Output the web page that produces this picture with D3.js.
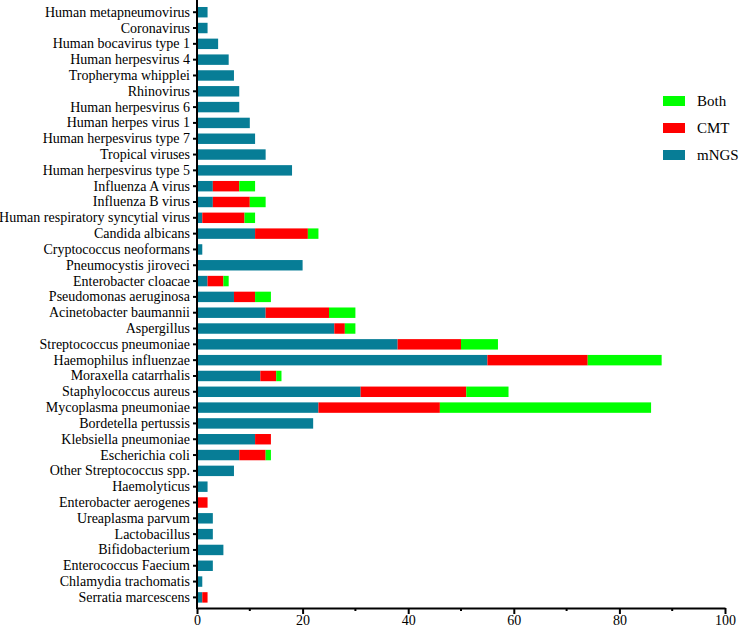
<!DOCTYPE html>
<html>
<head>
<meta charset="utf-8">
<script src="https://cdn.jsdelivr.net/npm/d3@7"></script>
<style>
  body { margin: 0; background: #fff; }
  svg, svg text { font-family: "Liberation Serif", "Times New Roman", Times, serif !important; }
  .axis path, .axis line { stroke: #000; }
</style>
</head>
<body>
<svg id="chart" width="741" height="629"></svg>
<script>
// categories, top to bottom
var pathogens = [
    'Human metapneumovirus', 'Coronavirus', 'Human bocavirus type 1', 'Human herpesvirus 4',
    'Tropheryma whipplei', 'Rhinovirus', 'Human herpesvirus 6', 'Human herpes virus 1',
    'Human herpesvirus type 7', 'Tropical viruses', 'Human herpesvirus type 5', 'Influenza A virus',
    'Influenza B virus', 'Human respiratory syncytial virus', 'Candida albicans', 'Cryptococcus neoformans',
    'Pneumocystis jiroveci', 'Enterobacter cloacae', 'Pseudomonas aeruginosa', 'Acinetobacter baumannii',
    'Aspergillus', 'Streptococcus pneumoniae', 'Haemophilus influenzae', 'Moraxella catarrhalis',
    'Staphylococcus aureus', 'Mycoplasma pneumoniae', 'Bordetella pertussis', 'Klebsiella pneumoniae',
    'Escherichia coli', 'Other Streptococcus spp.', 'Haemolyticus', 'Enterobacter aerogenes',
    'Ureaplasma parvum', 'Lactobacillus', 'Bifidobacterium', 'Enterococcus Faecium',
    'Chlamydia trachomatis', 'Serratia marcescens'
];

var mNGS = [2, 2, 4, 6, 7, 8, 8, 10, 11, 13, 18, 3, 3, 1, 11, 1, 20, 2, 7, 13,
            26, 38, 55, 12, 31, 23, 22, 11, 8, 7, 2, 0, 3, 3, 5, 3, 1, 1];
var CMT  = [0, 0, 0, 0, 0, 0, 0, 0, 0, 0, 0, 5, 7, 8, 10, 0, 0, 3, 4, 12,
            2, 12, 19, 3, 20, 23, 0, 3, 5, 0, 0, 2, 0, 0, 0, 0, 0, 1];
var Both = [0, 0, 0, 0, 0, 0, 0, 0, 0, 0, 0, 3, 3, 2, 2, 0, 0, 1, 3, 5,
            2, 7, 14, 1, 8, 40, 0, 0, 1, 0, 0, 0, 0, 0, 0, 0, 0, 0];

var seriesKeys = ['mNGS', 'CMT', 'Both'];
var seriesColors = ['#077d96', '#ff0000', '#00ff00'];
var legendOrder = ['Both', 'CMT', 'mNGS'];
var xTicks = [0, 20, 40, 60, 80, 100];

var rows = pathogens.map((name, i) => ({name: name, mNGS: mNGS[i], CMT: CMT[i], Both: Both[i]}));

var svg = d3.select('#chart');

var x = d3.scaleLinear().domain([0, 100]).range([197, 725]);
var y = d3.scaleBand().domain(pathogens).range([4.3, 605.3])
    .paddingInner(0.34).paddingOuter(0.17);
var color = d3.scaleOrdinal().domain(seriesKeys).range(seriesColors);

var stacked = d3.stack().keys(seriesKeys)(rows);

svg.append('g')
    .selectAll('g')
    .data(stacked)
    .join('g')
    .attr('fill', d => color(d.key))
    .selectAll('rect')
    .data(d => d)
    .join('rect')
    .attr('x', d => x(d[0]))
    .attr('y', d => y(d.data.name))
    .attr('width', d => x(d[1]) - x(d[0]))
    .attr('height', y.bandwidth());

// x axis, major + minor ticks
var axisY = 608;
var gX = svg.append('g')
    .attr('class', 'axis')
    .attr('transform', 'translate(0,' + axisY + ')')
    .call(d3.axisBottom(x).tickValues(xTicks).tickSize(6).tickSizeOuter(0).tickPadding(2));
gX.attr('font-family', null);
gX.select('.domain').attr('stroke-width', 2);
gX.selectAll('.tick line').attr('stroke-width', 2);
gX.selectAll('.tick text').attr('font-size', 14).attr('dy', '0.62em');

svg.append('g')
    .selectAll('line')
    .data(d3.range(10, 100, 20))
    .join('line')
    .attr('x1', d => x(d)).attr('x2', d => x(d))
    .attr('y1', axisY).attr('y2', axisY + 3)
    .attr('stroke', '#000').attr('stroke-width', 2);

// y axis
var gY = svg.append('g')
    .attr('class', 'axis')
    .attr('transform', 'translate(' + x(0) + ',0)')
    .call(d3.axisLeft(y).tickSize(4).tickSizeOuter(0).tickPadding(3));
gY.attr('font-family', null);
gY.select('.domain').attr('d', 'M0,0V' + (axisY + 1)).attr('stroke-width', 2);
gY.selectAll('.tick line').attr('stroke-width', 2);
gY.selectAll('.tick text').attr('font-size', 14);

// legend
var legend = svg.append('g')
    .selectAll('g')
    .data(legendOrder)
    .join('g')
    .attr('transform', (d, i) => 'translate(663,' + (101 + i * 27) + ')');

legend.append('rect')
    .attr('x', 0).attr('y', -5)
    .attr('width', 22).attr('height', 10)
    .attr('fill', d => color(d));

legend.append('text')
    .attr('x', 34).attr('y', 0)
    .attr('dy', '0.35em')
    .attr('font-size', 15)
    .text(d => d);
</script>
</body>
</html>
